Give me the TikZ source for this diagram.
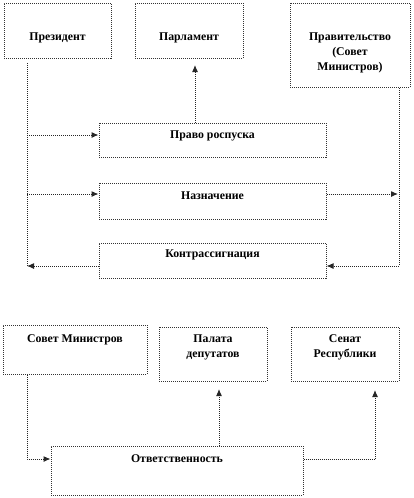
\documentclass[tikz,border=0pt]{standalone}
\usepackage{fontspec}
\setmainfont{Liberation Serif}
\usetikzlibrary{arrows.meta}
\begin{document}
\begin{tikzpicture}[x=1pt,y=-1pt,
  box/.style={draw=black!80,densely dotted,line width=1pt,inner sep=0pt},
  txt/.style={font=\fontsize{11.8}{15}\selectfont\bfseries,align=center,inner sep=0pt},
  conn/.style={draw=black!85,densely dotted,line width=1pt,-{Latex[length=7pt,width=6pt]}},
  plain/.style={draw=black!85,densely dotted,line width=1pt}]
\useasboundingbox (0,0) rectangle (414,498);
% top boxes
\node[box,minimum width=107,minimum height=55] (pres) at (57.5,30.5) {};
\node[box,minimum width=108,minimum height=55] (parl) at (189,30.5) {};
\node[box,minimum width=120,minimum height=84] (gov) at (350,45) {};
\node[txt] (presT) at (57.5,38) {Президент};
\node[txt] (parlT) at (189,38) {Парламент};
\node[txt] (govT) at (350,53) {Правительство\\(Совет\\Министров)};
% middle boxes
\node[box,minimum width=227,minimum height=34] (rosp) at (212.5,140) {};
\node[box,minimum width=227,minimum height=36] (nazn) at (212.5,201) {};
\node[box,minimum width=227,minimum height=35] (kontr) at (212.5,260.5) {};
\node[txt] (rospT) at (212.5,136) {Право роспуска};
\node[txt] (naznT) at (212.5,196) {Назначение};
\node[txt] (kontrT) at (212.5,255) {Контрассигнация};
% coordinates
\coordinate (lt) at (27,63);
\coordinate (lb) at (27,266);
\coordinate (l1) at (27,135);
\coordinate (l2) at (27,194);
\coordinate (rt) at (399,88);
\coordinate (rb) at (399,266);
\coordinate (r2) at (398,194);
\coordinate (pup) at (195,65);
\draw[plain] (lt) -- (lb);
\draw[plain] (rt) -- (rb);
\draw[conn] (l1) -- (l1 -| rosp.west);
\draw[conn] (l2) -- (l2 -| nazn.west);
\draw[conn] (r2 -| nazn.east) -- (r2);
\draw[conn] (lb -| kontr.west) -- (lb);
\draw[conn] (rb) -- (rb -| kontr.east);
\draw[conn] (pup |- rosp.north) -- (pup);
% bottom boxes
\node[box,minimum width=144,minimum height=49] (sm) at (75,349.5) {};
\node[box,minimum width=108,minimum height=54] (pd) at (213,354) {};
\node[box,minimum width=108,minimum height=54] (sr) at (345,354) {};
\node[box,minimum width=252,minimum height=49] (otv) at (177,470.5) {};
\node[txt] (smT) at (75,340) {Совет Министров};
\node[txt] (pdT) at (213,347) {Палата\\депутатов};
\node[txt] (srT) at (345,347) {Сенат\\Республики};
\node[txt] (otvT) at (177,459) {Ответственность};
\coordinate (sb) at (27,459);
\coordinate (pdb) at (219,389);
\coordinate (src) at (375,459);
\coordinate (srb) at (375,390);
\draw[conn] (sb |- sm.south) -- (sb) -- (sb -| otv.west);
\draw[conn] (pdb |- otv.north) -- (pdb);
\draw[conn] (src -| otv.east) -- (src) -- (srb);
\end{tikzpicture}
\end{document}
